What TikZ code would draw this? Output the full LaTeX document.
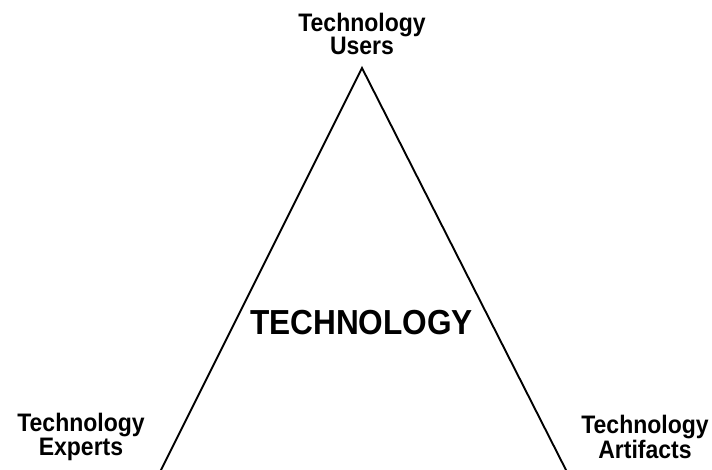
\documentclass[tikz,border=0pt]{standalone}
\usepackage{fontspec}
\setmainfont{Liberation Sans}
\begin{document}
\begin{tikzpicture}[x=1pt,y=1pt,
  lbl/.style={font=\bfseries\fontsize{23}{17.5}\selectfont, align=center, inner sep=0pt, yscale=1.1, transform shape},
  big/.style={font=\bfseries\fontsize{31.6}{34}\selectfont, inner sep=0pt, yscale=1.1, transform shape},
  side/.style={line width=1.9pt, line cap=round}]
\useasboundingbox[fill=white] (0,0) rectangle (712,470);
\coordinate (apex) at (362,402);
\coordinate (bl) at (160,-2);
\coordinate (br) at (567,-2);
\draw[side] (bl) -- (apex) -- (br);
\node[lbl] (users) at (362,436) {Technology\\Users};
\node[lbl] (experts) at (81,33) {Technology\\Experts};
\node[lbl] (artifacts) at (645,33) {Technology\\Artifacts};
\node[big] (tech) at (361.5,147.5) {TECHNOLOGY};
\end{tikzpicture}
\end{document}
